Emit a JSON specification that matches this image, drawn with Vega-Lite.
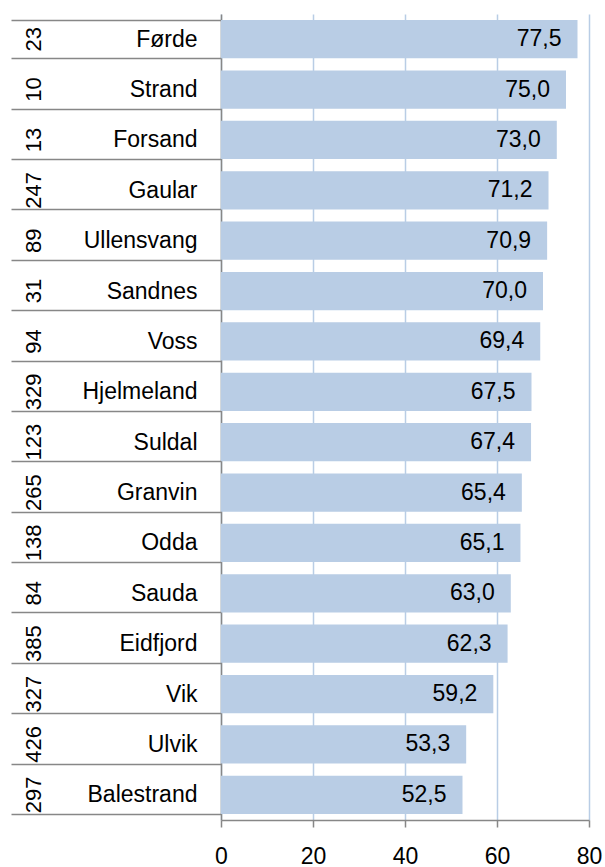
{
  "$schema": "https://vega.github.io/schema/vega-lite/v6.json",
  "width": 368,
  "height": 806,
  "autosize": {"type": "none"},
  "padding": {"left": 221, "top": 14, "right": 16, "bottom": 47},
  "background": "white",
  "data": {"values": [
    {"name": "Førde", "n": "23", "value": 77.5},
    {"name": "Strand", "n": "10", "value": 75.0},
    {"name": "Forsand", "n": "13", "value": 73.0},
    {"name": "Gaular", "n": "247", "value": 71.2},
    {"name": "Ullensvang", "n": "89", "value": 70.9},
    {"name": "Sandnes", "n": "31", "value": 70.0},
    {"name": "Voss", "n": "94", "value": 69.4},
    {"name": "Hjelmeland", "n": "329", "value": 67.5},
    {"name": "Suldal", "n": "123", "value": 67.4},
    {"name": "Granvin", "n": "265", "value": 65.4},
    {"name": "Odda", "n": "138", "value": 65.1},
    {"name": "Sauda", "n": "84", "value": 63.0},
    {"name": "Eidfjord", "n": "385", "value": 62.3},
    {"name": "Vik", "n": "327", "value": 59.2},
    {"name": "Ulvik", "n": "426", "value": 53.3},
    {"name": "Balestrand", "n": "297", "value": 52.5}
  ]},
  "layer": [
    {
      "mark": {"type": "bar", "color": "#B9CDE5"},
      "encoding": {
        "y": {
          "field": "name", "type": "nominal", "sort": "-x",
          "scale": {"type": "band", "paddingInner": 0.24, "paddingOuter": 0.12},
          "axis": {
            "orient": "left", "title": null, "grid": false,
            "domain": true, "domainColor": "#878787", "domainWidth": 1.5,
            "ticks": true, "tickBand": "extent", "tickSize": 210, "tickColor": "#878787", "tickWidth": 1.5,
            "labelFont": "Liberation Sans", "labelFontSize": 23, "labelColor": "#000000",
            "labelAlign": "right", "labelBaseline": "middle", "labelPadding": -186
          }
        },
        "x": {
          "field": "value", "type": "quantitative",
          "scale": {"domain": [0, 80], "nice": false, "zero": true},
          "axis": {
            "title": null, "values": [0, 20, 40, 60, 80],
            "grid": true, "gridColor": "#B9CDE5", "gridWidth": 1.5,
            "domain": true, "domainColor": "#878787", "domainWidth": 1.5,
            "ticks": true, "tickSize": 7, "tickColor": "#878787", "tickWidth": 1.5,
            "labelFont": "Liberation Sans", "labelFontSize": 23, "labelColor": "#000000",
            "labelPadding": 18, "labelFlush": false
          }
        }
      }
    },
    {
      "mark": {"type": "text", "align": "right", "baseline": "middle", "dx": -16, "font": "Liberation Sans", "fontSize": 23, "color": "#000000"},
      "encoding": {
        "y": {
          "field": "n", "type": "nominal", "sort": "-x",
          "scale": {"type": "band", "paddingInner": 0.24, "paddingOuter": 0.12},
          "axis": {
            "orient": "left", "title": null, "grid": false,
            "domain": false, "ticks": false,
            "labelFont": "Liberation Sans", "labelFontSize": 22, "labelColor": "#000000",
            "labelAngle": -90, "labelAlign": "center", "labelBaseline": "middle", "labelPadding": 188
          }
        },
        "x": {"field": "value", "type": "quantitative"},
        "text": {"field": "value", "type": "quantitative", "format": ".1f"}
      }
    }
  ],
  "resolve": {"scale": {"y": "independent"}, "axis": {"y": "independent"}},
  "config": {
    "view": {"stroke": null},
    "locale": {"number": {"decimal": ",", "thousands": " ", "grouping": [3], "currency": ["", " kr"]}}
  }
}
